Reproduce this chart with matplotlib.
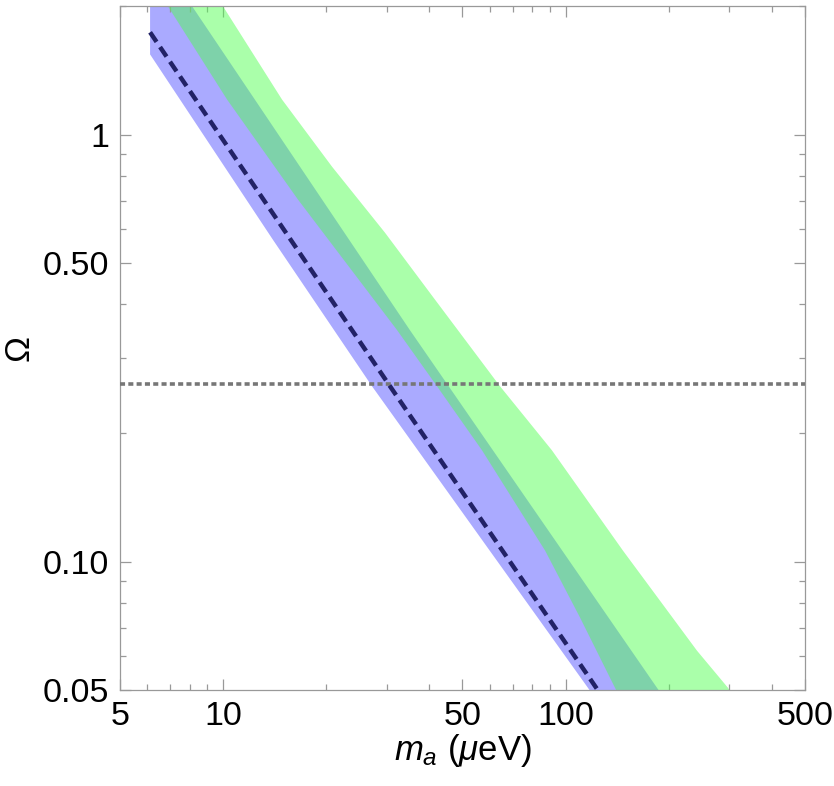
import matplotlib
matplotlib.use('Agg')
import matplotlib.pyplot as plt
from matplotlib.ticker import FixedLocator, FixedFormatter, LogLocator, NullFormatter

plt.rcParams['font.family'] = ['Liberation Sans', 'DejaVu Sans']
plt.rcParams['mathtext.fontset'] = 'custom'
plt.rcParams['mathtext.rm'] = 'Liberation Sans'
plt.rcParams['mathtext.it'] = 'Liberation Sans:italic'

# blue band (edges), m_a in micro-eV
blue_lo_m = [6.12, 13.98, 27.2, 114.0, 120.0]
blue_lo = [1.541, 0.567, 0.2575, 0.0517, 0.0488]
blue_hi_m = [6.12, 8.11, 35.1, 184.9, 195.0]
blue_hi = [2.79, 2.0, 0.3484, 0.0506, 0.0476]

# green band, lower edge
green_lo_m = [6.4, 6.90, 10.27, 16.55, 32.2, 42.1, 57.0, 87.1, 110.2, 139.4, 148.0]
green_lo = [2.2, 1.998, 1.208, 0.704, 0.3484, 0.2575, 0.1822, 0.1061, 0.0739, 0.0506, 0.046]
# green band, upper edge
green_hi_m = [9.24, 9.99, 14.86, 20.8, 29.7, 41.0, 64.3, 91.2, 147.0, 242.0, 298.0, 320.0]
green_hi = [2.2, 1.998, 1.208, 0.841, 0.589, 0.4166, 0.2575, 0.1822, 0.1061, 0.0618, 0.0506, 0.046]

# dashed line
line_m = [6.12, 30.7, 123.5]
line_om = [1.736, 0.2575, 0.0503]

omega_dm = 0.26

xticks = [5, 10, 50, 100, 500]
xticklabels = ['5', '10', '50', '100', '500']
yticks = [0.05, 0.1, 0.5, 1]
yticklabels = ['0.05', '0.10', '0.50', '1']

fig = plt.figure(figsize=(8.34, 7.86), dpi=100)
ax = fig.add_axes([0.1439, 0.1221, 0.8213, 0.8702])

ax.fill(blue_lo_m + blue_hi_m[::-1], blue_lo + blue_hi[::-1], color='#aaaaff', lw=0, zorder=1)
ax.fill(green_lo_m + green_hi_m[::-1], green_lo + green_hi[::-1], color=(78/255, 1.0, 78/255),
        alpha=0.48, lw=0, zorder=2)

ax.axhline(omega_dm, color='#777777', lw=2.6, linestyle=(0, (1.4, 0.9)), zorder=3)
ax.plot(line_m, line_om, color='#222266', lw=3.2, linestyle=(0, (2.6, 1.4)), zorder=4)

ax.set_xscale('log')
ax.set_yscale('log')
ax.set_xlim(5, 500)
ax.set_ylim(0.05, 2.0)

ax.xaxis.set_major_locator(FixedLocator(xticks))
ax.xaxis.set_major_formatter(FixedFormatter(xticklabels))
ax.xaxis.set_minor_locator(LogLocator(base=10, subs=range(2, 10)))
ax.xaxis.set_minor_formatter(NullFormatter())
ax.yaxis.set_major_locator(FixedLocator(yticks))
ax.yaxis.set_major_formatter(FixedFormatter(yticklabels))
ax.yaxis.set_minor_locator(LogLocator(base=10, subs=range(2, 10)))
ax.yaxis.set_minor_formatter(NullFormatter())

ax.tick_params(which='both', direction='in', top=True, right=True, color='#999999', width=0.9)
ax.tick_params(which='major', length=8, labelsize=24.5, pad=8)
ax.tick_params(which='minor', length=4)
for s in ax.spines.values():
    s.set_color('#999999')
    s.set_linewidth(0.9)

ax.set_xlabel(r'$m_a$ ($\mu$eV)', fontsize=25, labelpad=0)
ax.set_ylabel('Ω', fontsize=25)
ax.yaxis.set_label_coords(-0.124, 0.5)

fig.savefig('out.png', dpi=100)
